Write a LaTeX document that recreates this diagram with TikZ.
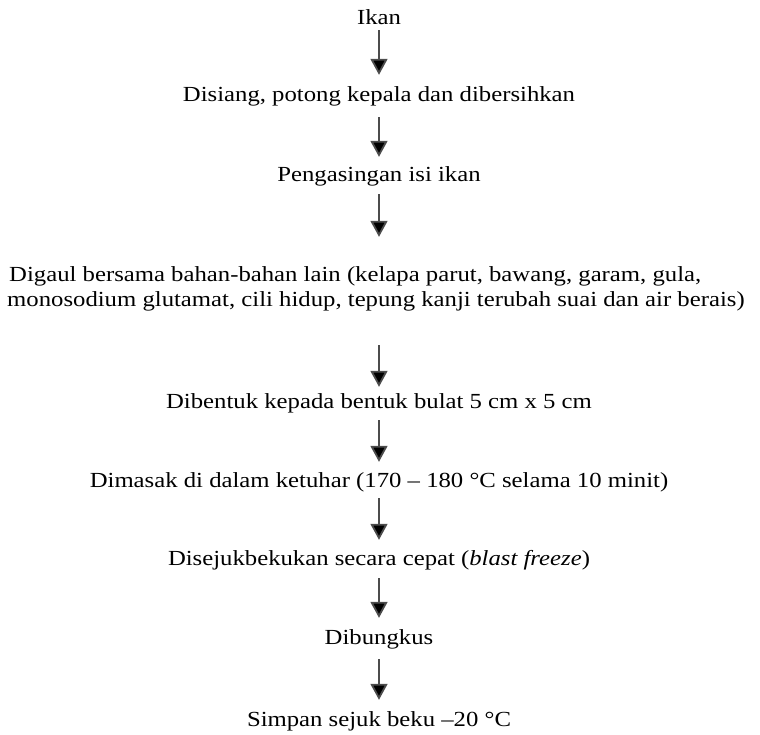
\documentclass[tikz,border=0pt]{standalone}
\usepackage{fontspec}
\setmainfont{Liberation Serif}[FakeStretch=1.15]
\usetikzlibrary{arrows.meta}
\begin{document}
\begin{tikzpicture}[x=1pt,y=1pt,
  lbl/.style={inner sep=0pt, text height=14pt, text depth=4pt, anchor=base, font=\fontsize{21.5}{25}\selectfont},
  lbll/.style={lbl, anchor=base west},
  arr/.style={draw=black!70, line width=1.8pt, -{Triangle[width=17pt,length=16pt,fill=black]}}]
\useasboundingbox (0,0) rectangle (760,-734);
\node[lbl] (n1) at (379,-24) {Ikan};
\node[lbl] (n2) at (379,-101) {Disiang, potong kepala dan dibersihkan};
\node[lbl] (n3) at (379,-181) {Pengasingan isi ikan};
\node[lbll] (n4a) at (9,-281) {Digaul bersama bahan-bahan lain (kelapa parut, bawang, garam, gula,};
\node[lbll] (n4b) at (7,-306) {monosodium glutamat, cili hidup, tepung kanji terubah suai dan air berais)};
\node[lbl] (n5) at (379,-408) {Dibentuk kepada bentuk bulat 5 cm x 5 cm};
\node[lbl] (n6) at (379,-487) {Dimasak di dalam ketuhar (170 – 180 °C selama 10 minit)};
\node[lbl] (n7) at (379,-565) {Disejukbekukan secara cepat (\textit{blast freeze})};
\node[lbl] (n8) at (379,-644) {Dibungkus};
\node[lbl] (n9) at (379,-726) {Simpan sejuk beku –20 °C};
\draw[arr, shorten <=2pt, shorten >=12pt] (n1.south) -- (n2.north);
\draw[arr, shorten <=12pt, shorten >=10pt] (n2.south) -- (n3.north);
\draw[arr, shorten <=9pt, shorten >=30pt] (n3.south) -- (n3.south |- n4a.north);
\draw[arr, shorten <=35pt, shorten >=7pt] (n5.north |- n4b.south) -- (n5.north);
\draw[arr, shorten <=8pt, shorten >=11pt] (n5.south) -- (n6.north);
\draw[arr, shorten <=7pt, shorten >=11pt] (n6.south) -- (n7.north);
\draw[arr, shorten <=9pt, shorten >=12pt] (n7.south) -- (n8.north);
\draw[arr, shorten <=11pt, shorten >=12pt] (n8.south) -- (n9.north);
\end{tikzpicture}
\end{document}
